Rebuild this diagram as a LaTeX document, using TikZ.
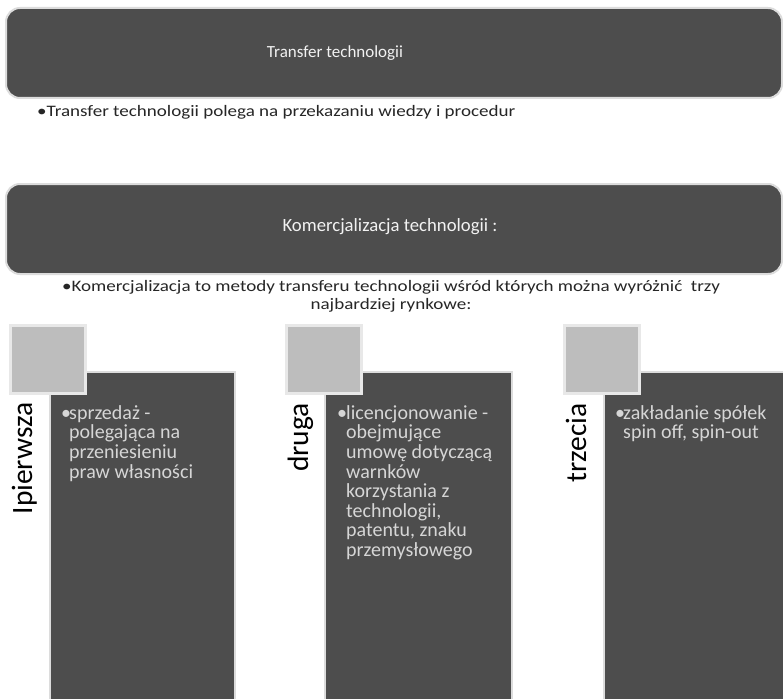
\documentclass[tikz,border=0pt]{standalone}
\usepackage{fontspec}
\setmainfont{Carlito}
\definecolor{darkfill}{HTML}{4D4D4D}
\definecolor{edgegray}{HTML}{DCDCDC}
\definecolor{sqfill}{HTML}{BDBDBD}
\definecolor{sqedge}{HTML}{E8E8E8}
\definecolor{bodygray}{HTML}{D6D6D6}
\definecolor{notegray}{HTML}{262626}
\newcommand{\notefont}{\fontsize{16}{18}\selectfont}
\tikzset{
  banner/.style={fill=darkfill, draw=edgegray, line width=2pt, rounded corners=14pt, anchor=north west, inner sep=0pt},
  tile/.style={fill=sqfill, draw=sqedge, line width=3pt, anchor=north west, inner sep=0pt},
  panel/.style={fill=darkfill, draw=edgegray, line width=2pt, anchor=north west, inner sep=0pt},
  titletext/.style={text=white!95!black, inner sep=0pt},
  notetext/.style={text=notegray, font=\notefont, inner sep=0pt, xscale=1.19},
  sidelabel/.style={rotate=90, anchor=base east, text=black, font=\fontsize{29.5}{30}\selectfont, inner sep=0pt},
  bodytext/.style={text=bodygray, font=\fontsize{20}{19.6}\selectfont, align=left, anchor=north west, inner sep=0pt},
  bulletmark/.style={text=bodygray, font=\fontsize{20}{20}\selectfont, anchor=base west, inner sep=0pt}
}
\begin{document}
\begin{tikzpicture}[x=1pt,y=-1pt]
\useasboundingbox (0,0) rectangle (783,698);
\clip (0,0) rectangle (783,698);
\fill[white] (0,0) rectangle (783,698);

% banners
\node[banner, minimum width=776pt, minimum height=90pt] (b1) at (5,7) {};
\node[banner, minimum width=776pt, minimum height=90pt] (b2) at (5,183) {};
\node[titletext, font=\fontsize{17}{20}\selectfont] (t1) at (335,53) {Transfer technologii};
\node[titletext, font=\fontsize{18.7}{22}\selectfont] (t2) at (390,227) {Komercjalizacja technologii :};

% notes
\node[notetext, anchor=west] (n1) at (37,112) {•Transfer technologii polega na przekazaniu wiedzy i procedur};
\node[notetext, align=center] (n2) at (391,296.5) {•Komercjalizacja to metody transferu technologii wśród których można wyróżnić~ trzy\\najbardziej rynkowe:};

% panels
\node[panel, minimum width=185pt, minimum height=340pt] (p1) at (49,371) {};
\node[panel, minimum width=187pt, minimum height=340pt] (p2) at (324,371) {};
\node[panel, minimum width=190pt, minimum height=340pt] (p3) at (603,371) {};

% tiles
\node[tile, minimum width=75pt, minimum height=68pt] (s1) at (8.5,323.5) {};
\node[tile, minimum width=75pt, minimum height=68pt] (s2) at (284.5,323.5) {};
\node[tile, minimum width=75pt, minimum height=68pt] (s3) at (562.5,323.5) {};

% side labels
\node[sidelabel] (l1) at (32,402) {Ipierwsza};
\node[sidelabel] (l2) at (308,403) {druga};
\node[sidelabel] (l3) at (586,403) {trzecia};

% bodies
\node[bulletmark] (d1) at (61,419) {•};
\node[bodytext] (x1) at (69,403) {\rule{0pt}{16pt}sprzedaż -\\polegająca na\\przeniesieniu\\praw własności};
\node[bulletmark] (d2) at (337,419) {•};
\node[bodytext] (x2) at (346,403) {\rule{0pt}{16pt}licencjonowanie -\\obejmujące\\umowę dotyczącą\\warnków\\korzystania z\\technologii,\\patentu, znaku\\przemysłowego};
\node[bulletmark] (d3) at (615,419) {•};
\node[bodytext] (x3) at (623,403) {\rule{0pt}{16pt}zakładanie spółek\\spin off, spin-out};
\end{tikzpicture}
\end{document}
